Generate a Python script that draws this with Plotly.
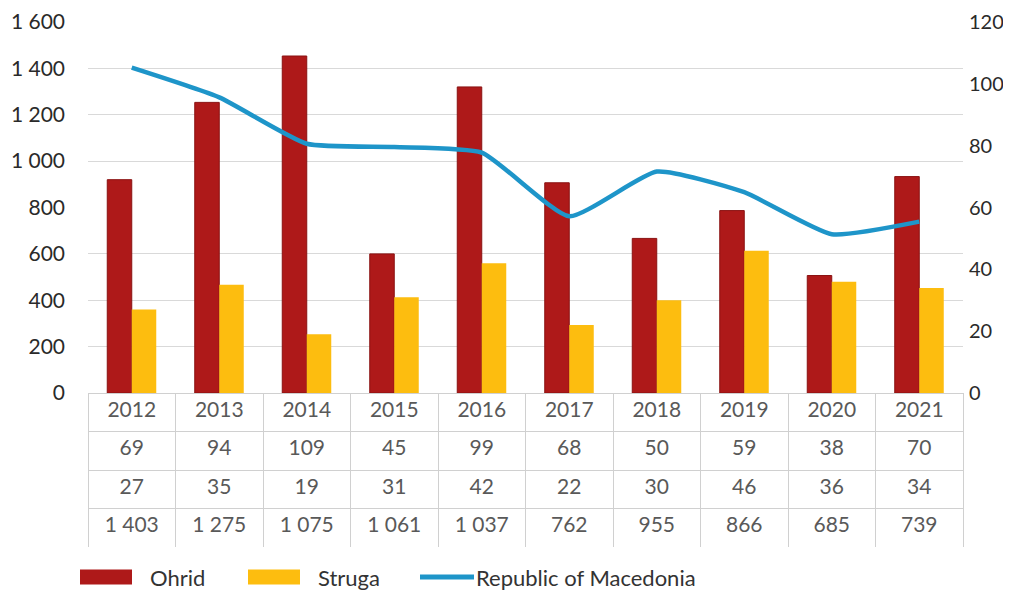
import plotly.graph_objects as go

years = ["2012", "2013", "2014", "2015", "2016", "2017", "2018", "2019", "2020", "2021"]
ohrid = [69, 94, 109, 45, 99, 68, 50, 59, 38, 70]
struga = [27, 35, 19, 31, 42, 22, 30, 46, 36, 34]
macedonia = [1403, 1275, 1075, 1061, 1037, 762, 955, 866, 685, 739]
names = ["Ohrid", "Struga", "Republic of Macedonia"]
colors = ["#AE1919", "#FDBD0F", "#1E95C9"]

# the page has an 8px body margin, so the figure is laid out 8px up/left
OFF = 8
W, H = 995, 583
ML, MR, MT, MB = 88 - OFF, 48 - OFF, 22 - OFF, 0
PW = W - ML - MR
ph = H - MT - MB
plot_bottom = 393 - OFF
table_bottom = 547 - OFF
ydom0 = (H - MB - plot_bottom) / ph
tdom0 = (H - MB - table_bottom) / ph


def fmt(v):
    return f"{v:,}".replace(",", " ")


fig = go.Figure()
# bars on the base (right-hand) axis, line on the overlaid left axis so it draws on top
fig.add_trace(go.Bar(x=years, y=ohrid, name=names[0], yaxis="y",
                     marker=dict(color=colors[0], line=dict(color="#8A1212", width=1)),
                     showlegend=False))
fig.add_trace(go.Bar(x=years, y=struga, name=names[1], yaxis="y",
                     marker=dict(color=colors[1], line=dict(width=0)),
                     showlegend=False))
fig.add_trace(go.Scatter(x=years, y=macedonia, name=names[2], yaxis="y2", mode="lines",
                         line=dict(color=colors[2], width=4.5, shape="spline", smoothing=0.5),
                         showlegend=False))

fig.add_trace(go.Table(
    domain=dict(x=[0, 1], y=[tdom0, ydom0]),
    columnwidth=[1] * len(years),
    header=dict(values=years, height=38.5, align="center",
                fill=dict(color="white"), line=dict(color="#D0D0D0", width=1),
                font=dict(family="Lato", size=21, color="#595959")),
    cells=dict(values=[[o, s, fmt(m)] for o, s, m in zip(ohrid, struga, macedonia)],
               height=38.5, align="center",
               fill=dict(color="white"), line=dict(color="#D0D0D0", width=1),
               font=dict(family="Lato", size=21, color="#595959")),
))

# custom legend (wide swatches like the original)
leg_y = (H - MB - (577 - OFF)) / ph
lx = [(80 - 88) / PW, (248 - 88) / PW, (420 - 88) / PW]
sw = 52 / PW
sh = 15 / ph
shapes = []
annotations = []
for i, nm in enumerate(names):
    if i < 2:
        shapes.append(dict(type="rect", xref="paper", yref="paper",
                           x0=lx[i], x1=lx[i] + sw, y0=leg_y - sh / 2, y1=leg_y + sh / 2,
                           fillcolor=colors[i], line=dict(width=0)))
        tx = lx[i] + sw + 16 / PW
    else:
        shapes.append(dict(type="line", xref="paper", yref="paper",
                           x0=lx[i], x1=lx[i] + 54 / PW, y0=leg_y, y1=leg_y,
                           line=dict(color=colors[i], width=5)))
        tx = lx[i] + 54 / PW
    annotations.append(dict(text=nm, xref="paper", yref="paper", x=tx, y=leg_y,
                            xanchor="left", yanchor="middle", showarrow=False,
                            font=dict(family="Lato", size=22, color="#333333")))

fig.update_layout(
    width=W, height=H,
    margin=dict(l=ML, r=MR, t=MT, b=MB),
    paper_bgcolor="white", plot_bgcolor="white",
    separators=". ",
    barmode="group", bargap=0.44, bargroupgap=0,
    xaxis=dict(domain=[0, 1], showticklabels=False, showgrid=False, zeroline=False,
               showline=False, ticks="", range=[-0.5, 9.5]),
    yaxis=dict(domain=[ydom0, 1], side="right", range=[0, 120], dtick=20,
               showgrid=False, zeroline=False, showline=False, ticks="",
               minor=dict(dtick=15, showgrid=True, gridcolor="#D9D9D9", gridwidth=1, ticks=""),
               ticklabelstandoff=5, automargin=False,
               tickfont=dict(family="Lato", size=20, color="#2A2A2A")),
    yaxis2=dict(overlaying="y", side="left", range=[0, 1600], dtick=200, tickformat=",d",
                showgrid=False, zeroline=False, showline=False, ticks="",
                ticklabelstandoff=22, automargin=False,
                tickfont=dict(family="Lato", size=21, color="#2A2A2A")),
    shapes=shapes, annotations=annotations,
    showlegend=False,
)

fig.write_html("out.html")
